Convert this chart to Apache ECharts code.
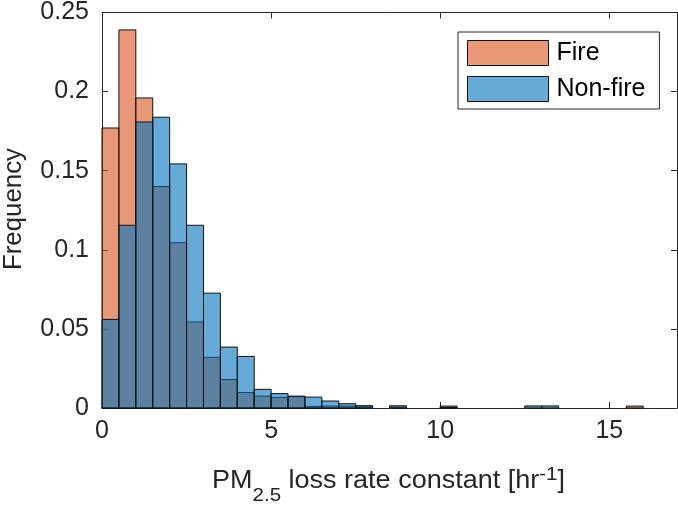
<!DOCTYPE html>
<html><head><meta charset="utf-8">
<script src="https://cdn.jsdelivr.net/npm/echarts@6/dist/echarts.min.js"></script>
<style>html,body{margin:0;padding:0;background:#fff}#c{width:678px;height:510px}</style>
</head><body><div id="c"></div>
<script>
// Histogram bins: width 0.5, starting at 0
const binWidth = 0.5;
const fireFreq = [0.177, 0.239, 0.196, 0.140, 0.1045, 0.0544, 0.032, 0.018, 0.0098, 0.0075,
  0.0067, 0.0072, 0.001, 0.0012, 0.0012, 0.0012, 0, 0.0006, 0, 0,
  0.0012, 0, 0, 0, 0, 0, 0, 0, 0, 0, 0, 0.0012];
const nonFireFreq = [0.056, 0.1155, 0.1808, 0.1838, 0.1543, 0.1155, 0.0726, 0.0385, 0.0326, 0.0118,
  0.0091, 0.0075, 0.0069, 0.0044, 0.0027, 0.0014, 0, 0.0014, 0, 0,
  0.0004, 0, 0, 0, 0, 0.0013, 0.0013, 0, 0, 0, 0, 0];
const xTicks = [0, 5, 10, 15];
const yTicks = [0, 0.05, 0.1, 0.15, 0.2, 0.25];
const seriesNames = ['Fire', 'Non-fire'];

const FONT = '"Liberation Sans", Arial, Helvetica, sans-serif';
const TXT = '#262626';
const fireColor = 'rgba(217,83,25,0.6)';
const nonFireColor = 'rgba(0,114,189,0.6)';

function toData(arr) {
  return arr.map((v, i) => [i * binWidth, (i + 1) * binWidth, v]);
}
function makeRender(fill) {
  return function (params, api) {
    const y = api.value(2);
    if (!(y > 0)) return null;
    const p0 = api.coord([api.value(0), y]);
    const p1 = api.coord([api.value(1), 0]);
    return {
      type: 'rect',
      shape: { x: p0[0], y: p0[1], width: p1[0] - p0[0], height: p1[1] - p0[1] },
      style: { fill: fill, stroke: '#111', lineWidth: 1 }
    };
  };
}

const grid = { left: 102, right: 1, top: 12, bottom: 102 };
const chart = echarts.init(document.getElementById('c'), null, { renderer: 'canvas' });

// x-axis title with subscript / superscript
const ctx = document.createElement('canvas').getContext('2d');
function w(t, s) { ctx.font = s + 'px ' + FONT; return ctx.measureText(t).width; }
const mainSize = 25, subSize = 19;
const parts = [
  { t: 'PM', s: mainSize, cy: 481 },
  { t: '2.5', s: subSize, cy: 496 },
  { t: ' loss rate constant [hr', s: mainSize, cy: 481 },
  { t: '-1', s: subSize, cy: 475 },
  { t: ']', s: mainSize, cy: 481 }
];
let total = 0; parts.forEach(p => { p.w = w(p.t, p.s); total += p.w; });
const labelLeft = 212, labelRight = 565;
const k = (labelRight - labelLeft) / total;
let cx = labelLeft;
const graphics = [];
parts.forEach(p => {
  graphics.push({
    type: 'text', x: cx, y: p.cy, scaleX: k, silent: true,
    style: { text: p.t, font: p.s + 'px ' + FONT, fill: TXT, align: 'left', verticalAlign: 'middle' }
  });
  cx += p.w * k;
});
const yTitle = 'Frequency';
const yk = 122 / w(yTitle, mainSize);
graphics.push({
  type: 'text', x: 14, y: 209, rotation: Math.PI / 2, scaleX: yk, silent: true,
  style: { text: yTitle, font: mainSize + 'px ' + FONT, fill: TXT, align: 'center', verticalAlign: 'middle' }
});

const axisLine = { show: true, onZero: false, lineStyle: { color: TXT, width: 1 } };
const option = {
  animation: false,
  backgroundColor: '#fff',
  grid: grid,
  graphic: graphics,
  legend: {
    orient: 'vertical', left: 458, top: 32,
    padding: [8, 14, 7, 9], itemGap: 10, itemWidth: 81, itemHeight: 25,
    borderColor: TXT, borderWidth: 1, backgroundColor: '#fff',
    textStyle: { fontFamily: FONT, fontSize: mainSize, color: '#000', padding: [0, 0, 0, 3] },
    data: [
      { name: seriesNames[0], icon: 'rect', itemStyle: { color: fireColor, borderColor: '#111', borderWidth: 1 } },
      { name: seriesNames[1], icon: 'rect', itemStyle: { color: nonFireColor, borderColor: '#111', borderWidth: 1 } }
    ]
  },
  xAxis: [
    { type: 'value', position: 'bottom', min: 0, max: 17, interval: 5,
      axisLine: axisLine, splitLine: { show: false },
      axisTick: { inside: true, length: 6, lineStyle: { color: TXT }, customValues: xTicks },
      axisLabel: { customValues: xTicks, fontFamily: FONT, fontSize: mainSize, color: TXT, margin: 11 } },
    { type: 'value', position: 'top', min: 0, max: 17, interval: 5,
      axisLine: axisLine, splitLine: { show: false },
      axisTick: { inside: true, length: 6, lineStyle: { color: TXT }, customValues: xTicks },
      axisLabel: { show: false } }
  ],
  yAxis: [
    { type: 'value', position: 'left', min: 0, max: 0.25, interval: 0.05,
      axisLine: axisLine, splitLine: { show: false },
      axisTick: { inside: true, length: 6, lineStyle: { color: TXT }, customValues: yTicks },
      axisLabel: { customValues: yTicks, fontFamily: FONT, fontSize: mainSize, color: TXT, margin: 13 } },
    { type: 'value', position: 'right', min: 0, max: 0.25, interval: 0.05,
      axisLine: axisLine, splitLine: { show: false },
      axisTick: { inside: true, length: 6, lineStyle: { color: TXT }, customValues: yTicks },
      axisLabel: { show: false } }
  ],
  series: [
    { name: seriesNames[0], type: 'custom', xAxisIndex: 0, yAxisIndex: 0,
      itemStyle: { color: fireColor }, encode: { x: [0, 1], y: 2 },
      renderItem: makeRender(fireColor), data: toData(fireFreq), z: 2 },
    { name: seriesNames[1], type: 'custom', xAxisIndex: 0, yAxisIndex: 0,
      itemStyle: { color: nonFireColor }, encode: { x: [0, 1], y: 2 },
      renderItem: makeRender(nonFireColor), data: toData(nonFireFreq), z: 3 }
  ]
};
chart.setOption(option);
</script></body></html>
